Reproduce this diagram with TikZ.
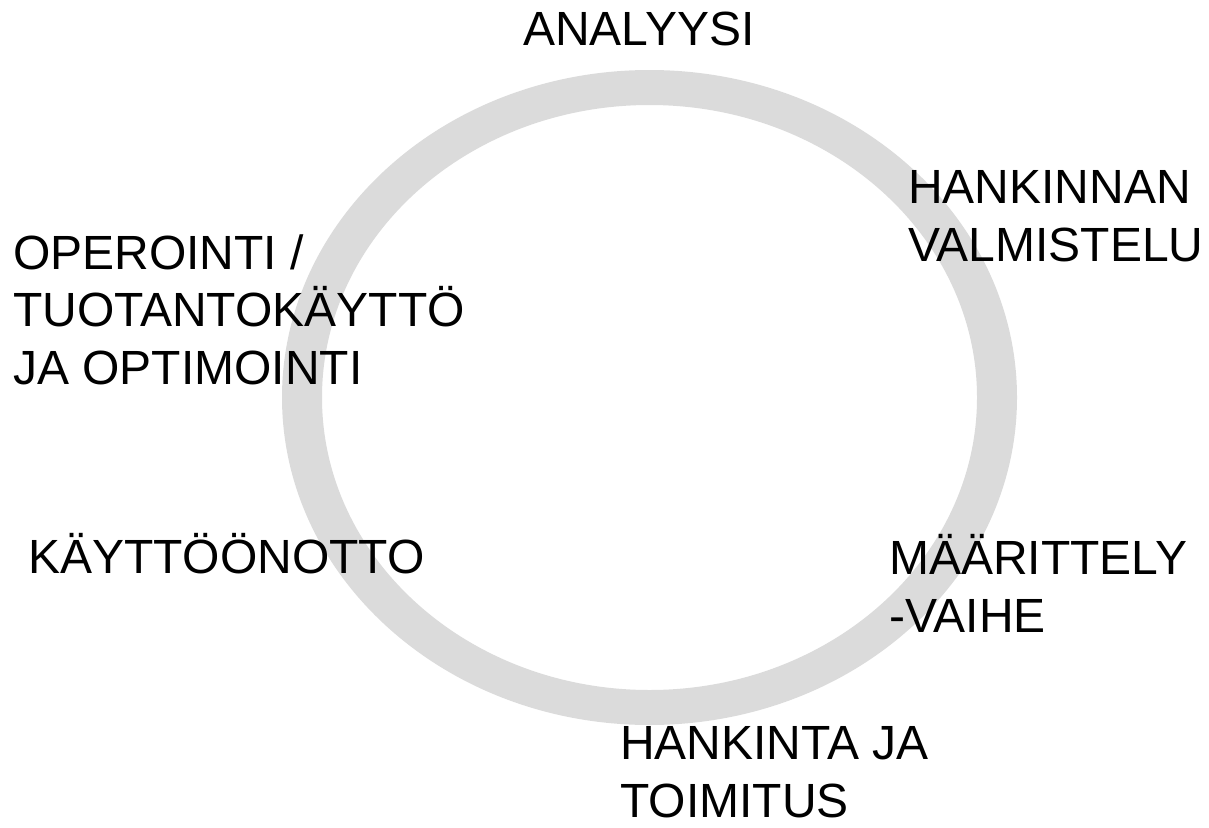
\documentclass[tikz,border=0pt]{standalone}
\usepackage{fontspec}
\setmainfont{Liberation Sans}
\definecolor{ringgray}{RGB}{219,219,219}

\begin{document}
\begin{tikzpicture}[x=1pt, y=-1pt,
    phasenode/.style={anchor=base west, inner sep=0pt, align=left, text=black,
        font=\fontsize{48}{57.5}\selectfont}
    ]
    \useasboundingbox (0,0) rectangle (1209,827);

    % the ring
    \fill [ringgray, even odd rule] (649.5,397.5) ellipse [x radius=367.5pt, y radius=327.5pt]
        (649.5,397.5) ellipse [x radius=327.5pt, y radius=292.5pt];

    % base anchor = baseline of the last line
    \node [phasenode] (v1) at (523, 45) {ANALYYSI};
    \node [phasenode] (v2) at (908, 261) {HANKINNAN\\VALMISTELU};
    \node [phasenode] (v3) at (889, 632) {MÄÄRITTELY\\-VAIHE};
    \node [phasenode] (v4) at (620, 817) {HANKINTA JA\\TOIMITUS};
    \node [phasenode] (v5) at (28, 573) {KÄYTTÖÖNOTTO};
    \node [phasenode] (v6) at (13, 384) {OPEROINTI /\\TUOTANTOKÄYTTÖ\\JA OPTIMOINTI};

\end{tikzpicture}
\end{document}
